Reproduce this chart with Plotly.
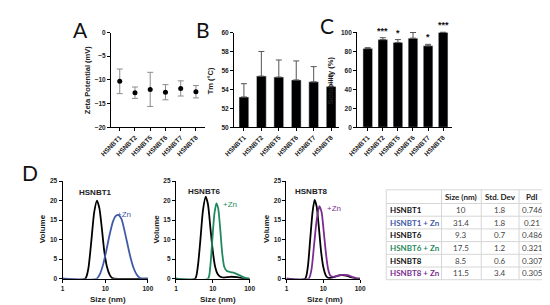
import plotly.graph_objects as go

W, H = 550, 305

# sample data -----------------------------------------------------------
samples = ["HSNBT1", "HSNBT2", "HSNBT5", "HSNBT6", "HSNBT7", "HSNBT8"]
zeta = [-10.3, -12.7, -12.0, -12.6, -11.8, -12.5]
zeta_sd = [2.6, 1.2, 3.6, 1.6, 1.6, 1.3]
tm = [53.2, 55.4, 55.3, 55.0, 54.8, 54.3]
tm_sd = [1.4, 2.6, 1.8, 2.0, 1.6, 1.2]
solubility = [83, 92.5, 89.5, 94, 86, 100]
solubility_sd = [1, 2, 3, 6, 1.5, 0.5]
signif = ["", "***", "*", "", "*", "***"]

# DLS volume distributions
t1_size = [1, 3.4, 4.0, 4.7, 5.5, 6.4, 7.3, 8.3, 9.5, 11, 12.7, 14.5, 16.5, 100]
t1_vol = [0, 0, 2.5, 9.5, 17, 20, 18, 13, 7, 3, 1, 0.2, 0, 0]
t1zn_size = [1, 6.3, 7.5, 9, 10.5, 12.5, 15, 17.5, 20.5, 24, 28, 33, 39, 46, 55, 65, 100]
t1zn_vol = [0, 0, 1.2, 3.8, 7, 11, 14.5, 16, 16.3, 15.3, 12.5, 9, 5.5, 2.8, 1, 0.2, 0]

t6_size = [1, 3.3, 3.9, 4.6, 5.4, 6.4, 7.4, 8.6, 10, 11.6, 13.5, 16, 20, 30, 45, 70, 100]
t6_vol = [0, 0, 3, 10, 17.5, 21, 19, 13, 7, 3, 1.2, 0.5, 0.3, 0.5, 0.4, 0.1, 0]
t6zn_size = [1, 7.4, 8.5, 9.7, 11, 12.5, 14, 15.8, 18, 20.5, 24, 30, 38, 50, 65, 85, 100]
t6zn_vol = [0, 0, 3, 10, 16.5, 19.3, 18, 13, 6.5, 3, 2, 1.7, 1.5, 1, 0.5, 0.1, 0]

t8_size = [1, 3.2, 3.8, 4.4, 5.1, 5.8, 6.6, 7.6, 8.7, 10, 11.5, 13, 16, 22, 30, 42, 55, 75, 100]
t8_vol = [0, 0, 3, 10, 17, 20.2, 18.5, 13, 7, 3, 1, 0.3, 0.2, 0.6, 0.9, 0.8, 0.4, 0.1, 0]
t8zn_size = [1, 4.0, 4.8, 5.6, 6.6, 7.8, 9, 10.3, 11.8, 13.5, 15.5, 19, 25, 33, 45, 60, 80, 100]
t8zn_vol = [0, 0, 2.5, 8.5, 15, 18.6, 17, 12, 6.5, 2.5, 0.8, 0.5, 0.8, 1.0, 0.9, 0.5, 0.1, 0]

# DLS summary table
table_header = ["", "Size (nm)", "Std. Dev", "PdI"]
table_rows = ["HSNBT1", "HSNBT1 + Zn", "HSNBT6", "HSNBT6 + Zn", "HSNBT8", "HSNBT8 + Zn"]
table_size = ["10", "31.4", "9.3", "17.5", "8.5", "11.5"]
table_sd = ["1.8", "1.8", "0.7", "1.2", "0.6", "3.4"]
table_pdi = ["0.746", "0.21", "0.486", "0.321", "0.307", "0.305"]

BLUE = "#3f5aa6"
GREEN = "#1f8a5e"
PURPLE = "#7b2d91"
row_colors = ["#111111", BLUE, "#111111", GREEN, "#111111", PURPLE]

FONT = "Liberation Sans, Arial"
TFONT = "Lato"


def fx(p):
    return p / W


def fy(p):
    return 1 - p / H


def axis(**kw):
    base = dict(
        showline=True, linecolor="black", linewidth=1.2,
        ticks="outside", ticklen=3, tickwidth=1.2, tickcolor="black",
        showgrid=False, zeroline=False, fixedrange=True,
        tickfont=dict(family=FONT, size=6.5, color="#222", weight="bold"),
    )
    base.update(kw)
    return base


fig = go.Figure()

# A: zeta potential
fig.add_trace(go.Scatter(
    x=samples, y=zeta, mode="markers",
    marker=dict(color="black", size=5),
    error_y=dict(type="data", array=zeta_sd, color="#8c8c8c", thickness=1, width=3),
    xaxis="x", yaxis="y",
))

# B: melting temperature
fig.add_trace(go.Bar(
    x=samples, y=tm, marker_color="black", width=0.56,
    error_y=dict(type="data", symmetric=False, array=tm_sd, arrayminus=[0] * 6,
                 color="#555", thickness=1, width=3),
    xaxis="x2", yaxis="y2",
))

# C: solubility
fig.add_trace(go.Bar(
    x=samples, y=solubility, marker_color="black", width=0.64,
    error_y=dict(type="data", symmetric=False, array=solubility_sd, arrayminus=[0] * 6,
                 color="#555", thickness=1, width=3),
    xaxis="x3", yaxis="y3",
))

# D: DLS curves
dls = [
    (t1_size, t1_vol, "black", "x4", "y4"),
    (t1zn_size, t1zn_vol, BLUE, "x4", "y4"),
    (t6_size, t6_vol, "black", "x5", "y5"),
    (t6zn_size, t6zn_vol, GREEN, "x5", "y5"),
    (t8_size, t8_vol, "black", "x6", "y6"),
    (t8zn_size, t8zn_vol, PURPLE, "x6", "y6"),
]
for xs, ys, col, xa, ya in dls:
    fig.add_trace(go.Scatter(
        x=xs, y=ys, mode="lines",
        line=dict(color=col, width=1.8, shape="spline", smoothing=0.6),
        xaxis=xa, yaxis=ya,
    ))

log_ax = dict(type="log", range=[0, 2], tickvals=[1, 10, 100], ticktext=["1", "10", "100"])
vol_ax = dict(range=[0, 25], dtick=5)
d_top, d_bot = 173, 273

fig.update_layout(
    width=W, height=H, margin=dict(l=0, r=0, t=0, b=0),
    paper_bgcolor="white", plot_bgcolor="white", showlegend=False,
    font=dict(family=FONT, color="#222"),
    xaxis=axis(domain=[fx(95), fx(192)], range=[-0.57, 5.6], tickangle=-45, anchor="y"),
    yaxis=axis(domain=[fy(118), fy(21)], range=[-20, 0], dtick=5, anchor="x"),
    xaxis2=axis(domain=[fx(222), fx(330)], range=[-0.56, 5.44], tickangle=-45, anchor="y2"),
    yaxis2=axis(domain=[fy(118), fy(21)], range=[50, 60], dtick=2, anchor="x2"),
    xaxis3=axis(domain=[fx(349), fx(447)], range=[-0.7, 5.6], tickangle=-45, anchor="y3"),
    yaxis3=axis(domain=[fy(118), fy(20)], range=[0, 101], tickvals=[0, 20, 40, 60, 80, 100],
                anchor="x3"),
    xaxis4=axis(domain=[fx(45), fx(133)], anchor="y4", **log_ax),
    yaxis4=axis(domain=[fy(d_bot), fy(d_top)], anchor="x4", **vol_ax),
    xaxis5=axis(domain=[fx(162), fx(238)], anchor="y5", **log_ax),
    yaxis5=axis(domain=[fy(d_bot), fy(d_top)], anchor="x5", **vol_ax),
    xaxis6=axis(domain=[fx(276), fx(352)], anchor="y6", **log_ax),
    yaxis6=axis(domain=[fy(d_bot), fy(d_top)], anchor="x6", **vol_ax),
)

ann = []


def text(x, y, s, size=8, color="#222", weight="bold", angle=0, family=FONT, xanchor="center"):
    ann.append(dict(
        x=fx(x), y=fy(y), xref="paper", yref="paper", text=s, showarrow=False,
        textangle=angle, xanchor=xanchor, yanchor="middle",
        font=dict(family=family, size=size, color=color, weight=weight),
    ))


# panel letters
for letter, x, y in [("A", 63, 18), ("B", 190, 18), ("C", 318, 14), ("D", 11, 164)]:
    text(x, y, letter, size=21, color="#111", weight="normal", family="Lato")

# axis titles
text(71, 70, "Zeta Potential (mV)", size=7.5, angle=-90)
text(197, 70, "Tm (°C)", size=7.5, angle=-90)
text(321, 70, "Solubility (%)", size=7.5, angle=-90)
for yx in [25, 142, 256]:
    text(yx, 222, "Volume", size=8, angle=-90)
for cx in [92, 205, 316]:
    text(cx, 294, "Size (nm)", size=8)

# curve labels
text(79, 185, "HSNBT1", size=8)
text(191, 184, "HSNBT6", size=8)
text(302, 184, "HSNBT8", size=8)
text(108, 207, "+Zn", size=8, color=BLUE, weight="normal")
text(218, 197, "+Zn", size=8, color=GREEN, weight="normal")
text(325, 201, "+Zn", size=8, color=PURPLE, weight="normal")

# significance marks on C
for i, mark in enumerate(signif):
    if mark:
        ann.append(dict(
            x=samples[i], y=solubility[i] + solubility_sd[i], xref="x3", yref="y3",
            text=mark, showarrow=False, yanchor="bottom", yshift=0,
            font=dict(family=FONT, size=9, color="#111", weight="bold"),
        ))

# table drawn with shapes + annotations
col_edges = [379, 436, 477, 516, 543]
row_edges = [182, 196, 209, 222, 235, 248, 261, 274]
shapes = []
grid = dict(color="#d6d6d6", width=1)
for cxe in col_edges:
    shapes.append(dict(type="line", xref="paper", yref="paper",
                       x0=fx(cxe), x1=fx(cxe), y0=fy(row_edges[0]), y1=fy(row_edges[-1]),
                       line=grid))
for rye in row_edges:
    shapes.append(dict(type="line", xref="paper", yref="paper",
                       x0=fx(col_edges[0]), x1=fx(col_edges[-1]), y0=fy(rye), y1=fy(rye),
                       line=grid))

for j, h in enumerate(table_header):
    if h:
        cx = (col_edges[j] + col_edges[j + 1]) / 2
        text(cx, (row_edges[0] + row_edges[1]) / 2, h, size=8, color="#222", family=TFONT)

columns = [table_size, table_sd, table_pdi]
for i, name in enumerate(table_rows):
    cy = (row_edges[i + 1] + row_edges[i + 2]) / 2
    text(col_edges[0] + 2, cy, name, size=8, color=row_colors[i], family=TFONT, xanchor="left")
    for j, col in enumerate(columns):
        cx = (col_edges[j + 1] + col_edges[j + 2]) / 2
        text(cx, cy, col[i], size=8, color="#444", weight="normal", family=TFONT)

fig.update_layout(annotations=ann, shapes=shapes)

fig.write_html("out.html")
